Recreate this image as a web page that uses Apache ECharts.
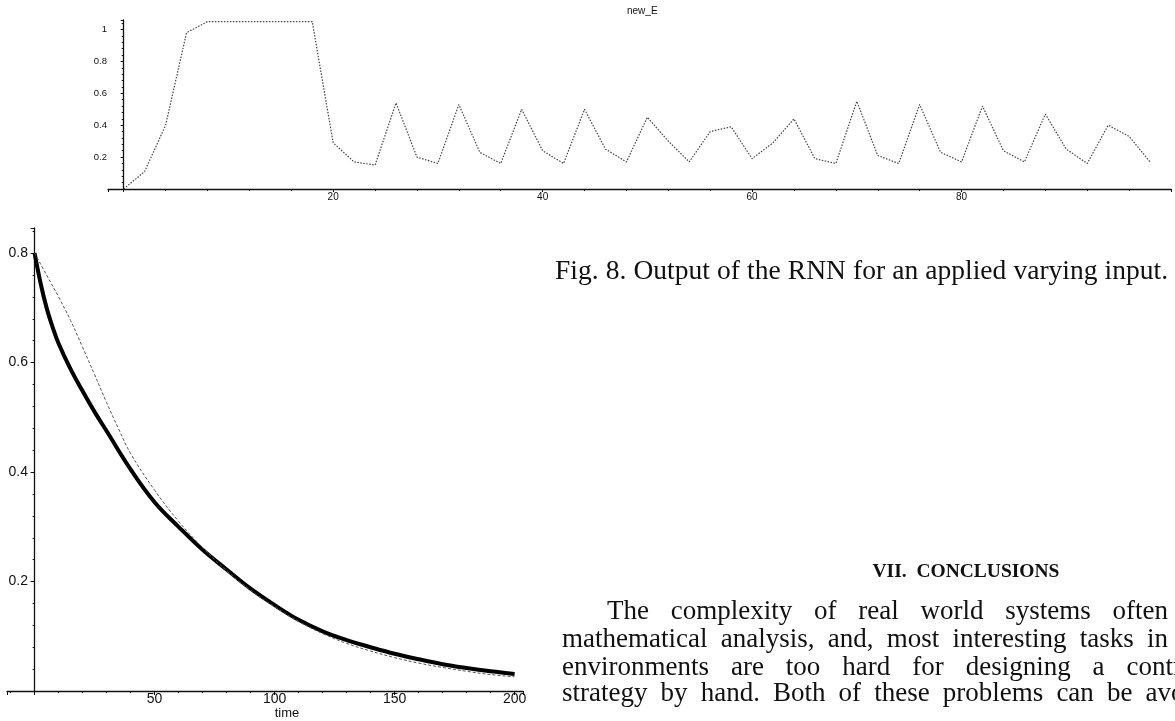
<!DOCTYPE html>
<html><head><meta charset="utf-8">
<script src="https://cdn.jsdelivr.net/npm/echarts@6/dist/echarts.min.js"></script>
<style>html,body{margin:0;padding:0;background:#fff}#c{width:1175px;height:721px}</style>
</head><body><div id="c"></div>
<script>
// ---------- data ----------
const topTitle = 'new_E';
const topX = [0,2,4,6,8,10,12,14,16,18,20,22,24,26,28,30,32,34,36,38,40,42,44,46,48,50,52,54,56,58,60,62,64,66,68,70,72,74,76,78,80,82,84,86,88,90,92,94,96,98];
const topY = [0,0.11,0.40,0.98,1.05,1.05,1.05,1.05,1.05,1.05,0.29,0.17,0.15,0.54,0.20,0.16,0.53,0.23,0.16,0.50,0.24,0.16,0.50,0.25,0.17,0.45,0.30,0.17,0.36,0.39,0.19,0.29,0.44,0.19,0.16,0.55,0.21,0.16,0.53,0.23,0.17,0.52,0.24,0.17,0.47,0.25,0.16,0.40,0.33,0.17];
const topXTickLabels = [20,40,60,80];
const topYTickLabels = [0.2,0.4,0.6,0.8,1];

const bottomXName = 'time';
const thickTime = [0,2.5,5,7.5,10,15,20,25,30,40,50,60,70,80,90,100,110,120,130,140,150,160,170,180,190,200];
const thickValue = [0.80,0.745,0.70,0.665,0.635,0.588,0.548,0.51,0.475,0.405,0.345,0.30,0.258,0.222,0.187,0.157,0.130,0.109,0.093,0.080,0.068,0.058,0.049,0.042,0.036,0.031];
const thinTime = [0,5,10,15,20,25,30,35,40,50,60,70,80,90,100,110,120,130,140,150,160,170,180,190,200];
const thinValue = [0.80,0.76,0.72,0.677,0.628,0.578,0.527,0.479,0.434,0.367,0.31,0.262,0.22,0.184,0.154,0.127,0.105,0.087,0.073,0.061,0.051,0.043,0.036,0.030,0.026];
const bottomXTickLabels = [50,100,150,200];
const bottomYTickLabels = [0.2,0.4,0.6,0.8];

const captionText = 'Fig. 8. Output of the RNN for an applied varying input.';
const headingText = 'VII.  CONCLUSIONS';
const paragraphLines = [
  'The complexity of real world systems often',
  'mathematical analysis, and, most interesting tasks in',
  'environments are too hard for designing a control',
  'strategy by hand.  Both of these problems can be avoided'
];

// ---------- layout ----------
const BODY_FONT = '27px "Liberation Serif"';
const lineLeft = [607, 562, 562, 562];
const lineRight = [1168, 1168, 1203, 1231];
const lineY = [612, 640, 668, 694];

const cvs = document.createElement('canvas').getContext('2d');
function justify(text, font, left, right, y) {
  cvs.font = font;
  const words = text.split(/\s+/);
  const widths = words.map(w => cvs.measureText(w).width);
  const total = widths.reduce((a, b) => a + b, 0);
  const gap = words.length > 1 ? (right - left - total) / (words.length - 1) : 0;
  let x = left; const out = [];
  words.forEach((w, i) => {
    out.push({type:'text', x: x, y: y, silent:true,
      style:{text:w, font:font, fill:'#111', align:'left', verticalAlign:'middle'}});
    x += widths[i] + gap;
  });
  return out;
}

const graphics = [];
paragraphLines.forEach((t, i) => graphics.push(...justify(t, BODY_FONT, lineLeft[i], lineRight[i], lineY[i])));
graphics.push(...justify(captionText, '27.5px "Liberation Serif"', 555, 1168, 272));
graphics.push({type:'text', x:966, y:572, silent:true,
  style:{text:headingText, font:'bold 19.5px "Liberation Serif"', fill:'#111', align:'center', verticalAlign:'middle'}});

const axisCol = '#111';
const chart = echarts.init(document.getElementById('c'), null, {renderer:'canvas'});
chart.setOption({
  animation:false,
  backgroundColor:'#fff',
  title:{text:topTitle, left:622, top:1, textStyle:{fontSize:10, fontWeight:'normal', color:'#111', fontFamily:'Liberation Sans'}},
  graphic: graphics,
  grid:[
    {left:108, right:4, top:20, bottom:532, containLabel:false, outerBoundsMode:'none'},
    {left:7, right:652, top:228, bottom:30, containLabel:false, outerBoundsMode:'none'}
  ],
  xAxis:[
    {type:'value', gridIndex:0, min:-1.5, max:100, splitNumber:5,
     axisLine:{onZero:true, lineStyle:{color:axisCol, width:1.3}},
     axisTick:{length:3, lineStyle:{color:axisCol}},
     minorTick:{show:true, splitNumber:5, length:2, lineStyle:{color:axisCol}},
     splitLine:{show:false}, minorSplitLine:{show:false},
     axisLabel:{margin:3, fontSize:10, color:'#111', fontFamily:'Liberation Sans',
       formatter:v => topXTickLabels.includes(v) ? String(v) : ''}},
    {type:'value', gridIndex:1, min:-11.5, max:203.5, splitNumber:5,
     name:bottomXName, nameLocation:'middle', nameGap:16, nameMoveOverlap:false,
     nameTextStyle:{fontSize:13, color:'#111', fontFamily:'Liberation Sans', padding:[0,0,0,44]},
     axisLine:{onZero:true, lineStyle:{color:axisCol, width:1.3}},
     axisTick:{length:4, lineStyle:{color:axisCol}},
     minorTick:{show:true, splitNumber:5, length:2, lineStyle:{color:axisCol}},
     splitLine:{show:false},
     axisLabel:{margin:1, fontSize:14, color:'#111', fontFamily:'Liberation Sans',
       formatter:v => bottomXTickLabels.includes(v) ? String(v) : ''}}
  ],
  yAxis:[
    {type:'value', gridIndex:0, min:0, max:1.06, splitNumber:5,
     axisLine:{onZero:true, lineStyle:{color:axisCol, width:1.3}},
     axisTick:{length:3, lineStyle:{color:axisCol}},
     minorTick:{show:true, splitNumber:5, length:2, lineStyle:{color:axisCol}},
     splitLine:{show:false},
     axisLabel:{margin:1, fontSize:9.5, color:'#111', fontFamily:'Liberation Sans',
       formatter:v => topYTickLabels.some(t => Math.abs(t - v) < 1e-9) ? String(+v.toFixed(2)) : ''}},
    {type:'value', gridIndex:1, min:0, max:0.846, splitNumber:5,
     axisLine:{onZero:true, lineStyle:{color:axisCol, width:1.3}},
     axisTick:{length:4, lineStyle:{color:axisCol}},
     minorTick:{show:true, splitNumber:5, length:2, lineStyle:{color:axisCol}},
     splitLine:{show:false},
     axisLabel:{margin:-21, fontSize:14, color:'#111', fontFamily:'Liberation Sans',
       formatter:v => bottomYTickLabels.some(t => Math.abs(t - v) < 1e-9) ? String(+v.toFixed(2)) : ''}}
  ],
  series:[
    {type:'line', xAxisIndex:0, yAxisIndex:0, symbol:'none', data: topX.map((x,i)=>[x, topY[i]]),
     lineStyle:{color:'#444', width:1.2, type:[1.5,1.5]}},
    {type:'line', xAxisIndex:1, yAxisIndex:1, symbol:'none', smooth:0.4,
     data: thickTime.map((x,i)=>[x, thickValue[i]]), lineStyle:{color:'#000', width:4}},
    {type:'line', xAxisIndex:1, yAxisIndex:1, symbol:'none', smooth:0.4,
     data: thinTime.map((x,i)=>[x, thinValue[i]]), lineStyle:{color:'#555', width:1, type:[3,2]}}
  ]
});
</script></body></html>
